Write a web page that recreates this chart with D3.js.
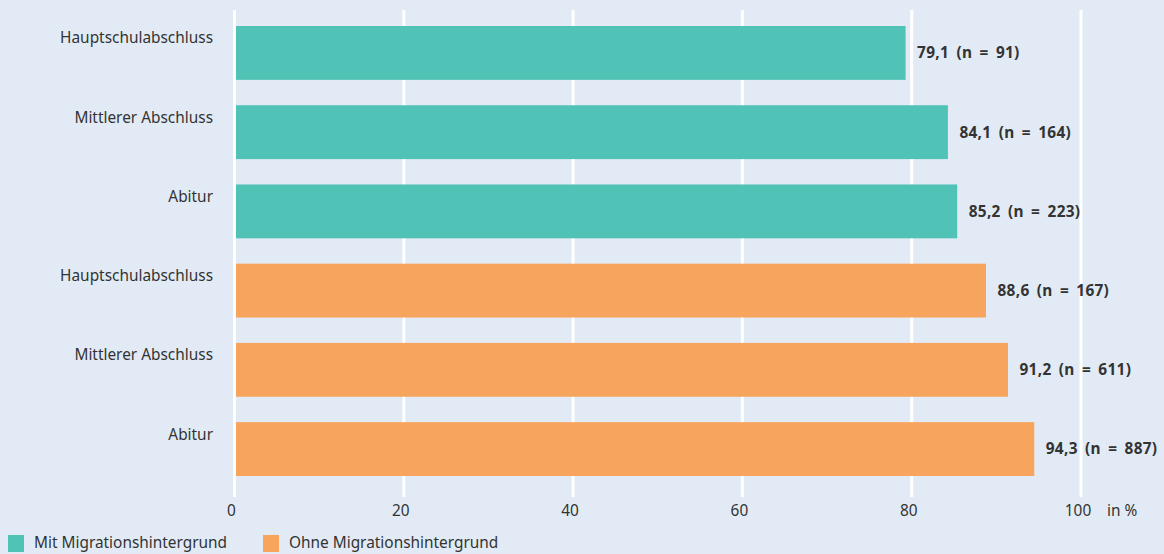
<!DOCTYPE html>
<html><head><meta charset="utf-8">
<script src="https://cdn.jsdelivr.net/npm/d3@7"></script>
<style>body{margin:0;background:#e2ebf5;} svg{display:block;}</style>
</head><body>
<script>
const categories = ["Hauptschulabschluss","Mittlerer Abschluss","Abitur","Hauptschulabschluss","Mittlerer Abschluss","Abitur"];
const groups = ["Mit Migrationshintergrund","Mit Migrationshintergrund","Mit Migrationshintergrund","Ohne Migrationshintergrund","Ohne Migrationshintergrund","Ohne Migrationshintergrund"];
const values = [79.1, 84.1, 85.2, 88.6, 91.2, 94.3];
const nValues = [91, 164, 223, 167, 611, 887];
const xTicks = [0, 20, 40, 60, 80, 100];
const legendLabels = ["Mit Migrationshintergrund", "Ohne Migrationshintergrund"];
const colors = ["#50c2b6", "#f7a55e"];

const W = 1164, H = 554;
const svg = d3.select("body").append("svg").attr("width", W).attr("height", H);
svg.append("rect").attr("width", W).attr("height", H).attr("fill", "#e2ebf5");
const font = "'Noto Sans', sans-serif";
const fs = 15.4;
const x = d3.scaleLinear().domain([0, 100]).range([234.5, 1081]);
const idx = d3.range(values.length);
const y = d3.scaleBand().domain(idx).range([26, 476]).paddingInner(0.32).paddingOuter(0);
const color = d3.scaleOrdinal().domain(legendLabels).range(colors);

// grid
svg.append("g").selectAll("line").data(xTicks).join("line")
  .attr("x1", d => x(d)).attr("x2", d => x(d))
  .attr("y1", 10).attr("y2", 497)
  .attr("stroke", "#ffffff").attr("stroke-width", 3);

// bars
svg.append("g").selectAll("rect").data(idx).join("rect")
  .attr("x", x(0) + 1.5).attr("y", i => y(i))
  .attr("width", i => x(values[i]) + 1.5 - x(0) - 1.5)
  .attr("height", y.bandwidth())
  .attr("fill", i => color(groups[i]));

// category labels
svg.append("g").selectAll("text").data(idx).join("text")
  .attr("x", 213).attr("y", i => y(i) + 12)
  .attr("dy", "0.35em").attr("text-anchor", "end")
  .attr("font-family", font).attr("font-size", fs).attr("fill", "#333333")
  .text(i => categories[i]);

// value labels
svg.append("g").selectAll("text").data(idx).join("text")
  .attr("x", i => x(values[i]) + 13).attr("y", i => y(i) + y.bandwidth() / 2)
  .attr("dy", "0.35em")
  .attr("font-family", font).attr("font-size", fs).attr("font-weight", "bold").attr("fill", "#333333")
  .attr("word-spacing", 3).attr("letter-spacing", 0.3)
  .text(i => values[i].toFixed(1).replace(".", ",") + " (n = " + nValues[i] + ")");

// x axis labels
svg.append("g").selectAll("text").data(xTicks).join("text")
  .attr("x", d => x(d) - 3).attr("y", 511).attr("dy", "0.35em")
  .attr("text-anchor", "middle")
  .attr("font-family", font).attr("font-size", fs).attr("fill", "#333333")
  .text(d => d);
svg.append("text").attr("x", 1107).attr("y", 511).attr("dy", "0.35em")
  .attr("font-family", font).attr("font-size", fs).attr("fill", "#333333").text("in %");

// legend
const legX = [8, 263];
const lg = svg.append("g").selectAll("g").data(legendLabels).join("g")
  .attr("transform", (d, i) => `translate(${legX[i]},535)`);
lg.append("rect").attr("width", 16).attr("height", 17).attr("fill", d => color(d));
lg.append("text").attr("x", 26).attr("y", 8).attr("dy", "0.35em")
  .attr("font-family", font).attr("font-size", fs).attr("fill", "#333333").text(d => d);
</script>
</body></html>
